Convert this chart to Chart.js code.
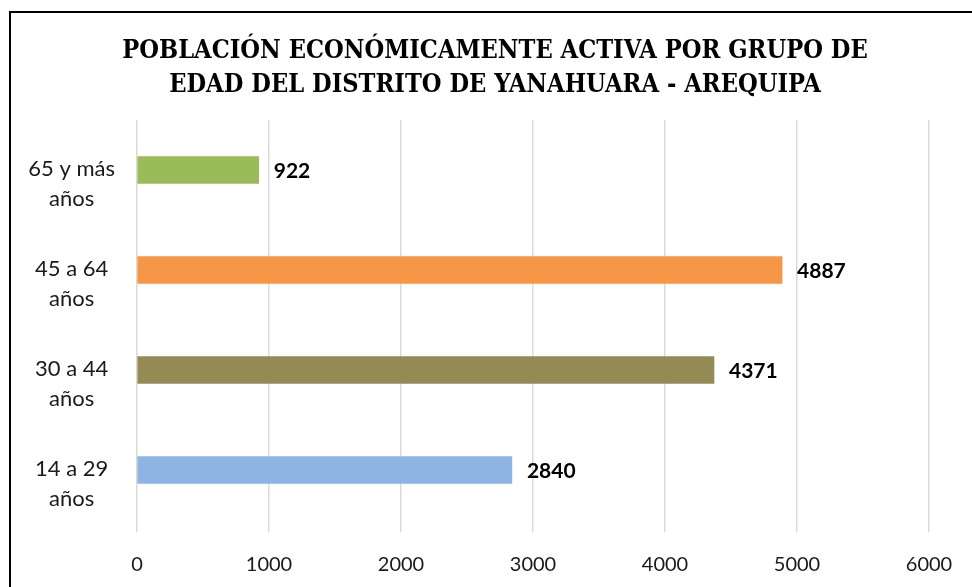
<!DOCTYPE html>
<html>
<head>
<meta charset="utf-8">
<script src="https://cdn.jsdelivr.net/npm/chart.js"></script>
<style>
html,body{margin:0;padding:0;background:#fff;overflow:hidden}
#marco{position:absolute;left:9px;top:11px;width:968px;height:585px;border-left:2px solid #000;border-top:2px solid #000}
#cont{position:absolute;left:0;top:0;width:968px;height:585px}
</style>
</head>
<body>
<div id="marco"><div id="cont"><canvas id="barras"></canvas></div></div>
<script>
// datos (orden de Excel: primera categoria abajo)
var grupos = [["14 a 29","años"],["30 a 44","años"],["45 a 64","años"],["65 y más","años"]]
var pea = [2840,4371,4887,922]
var colores = ["#8EB4E3","#948A54","#F79646","#9BBB59"]
var ejeMin = 0
var ejeMax = 6000
var paso = 1000
var titulo = ["POBLACIÓN ECONÓMICAMENTE ACTIVA POR GRUPO DE","EDAD DEL DISTRITO DE YANAHUARA - AREQUIPA"]

// etiquetas de valor al final de cada barra
var etiquetas = {
	id:"etiquetas",
	afterDatasetsDraw: function(chart){
		var ctx = chart.ctx
		var meta = chart.getDatasetMeta(0)
		ctx.save()
		ctx.font = "bold 21px Lato"
		ctx.fillStyle = "#000"
		ctx.textAlign = "left"
		ctx.textBaseline = "middle"
		for(var i=0;i<meta.data.length;i++){
			var b = meta.data[i]
			ctx.fillText(pea[i], b.x+15, b.y+1)
		}
		ctx.restore()
	}
}

new Chart("barras", {
	type: "bar",
	data: {
		labels: grupos,
		datasets: [{data: pea, backgroundColor: colores, barThickness: 27}]
	},
	options: {
		indexAxis: "y",
		responsive: true,
		maintainAspectRatio: false,
		animation: false,
		layout: {padding: 0},
		plugins: {
			legend: {display: false},
			tooltip: {enabled: false},
			title: {
				display: true,
				text: titulo,
				color: "#000",
				font: {family: "'DejaVu Serif Condensed', 'Liberation Serif'", size: 25.2, weight: "bold", lineHeight: 1.35},
				padding: {top: 21, bottom: 18}
			}
		},
		scales: {
			x: {
				min: ejeMin, max: ejeMax,
				ticks: {stepSize: paso, color: "#1a1a1a", padding: 21, font: {family: "Lato", size: 20, lineHeight: 1.2},
					callback: function(v){ return v }},
				grid: {color: "#d9d9d9", lineWidth: 1.5, tickLength: 12, drawTicks: true},
				border: {display: false}
			},
			y: {
				reverse: true,
				afterFit: function(s){ s.width = 126 },
				ticks: {color: "#1a1a1a", padding: 22, crossAlign: "center", labelOffset: 14, font: {family: "Lato", size: 22, lineHeight: 1.36}},
				grid: {display: false, drawTicks: false},
				border: {display: false}
			},
			// margen derecho vacio (solo espacio)
			margen: {
				type: "category",
				position: "right",
				afterFit: function(s){ s.width = 50 },
				ticks: {display: false},
				grid: {display: false, drawTicks: false},
				border: {display: false}
			}
		}
	},
	plugins: [etiquetas]
})
</script>
</body>
</html>
